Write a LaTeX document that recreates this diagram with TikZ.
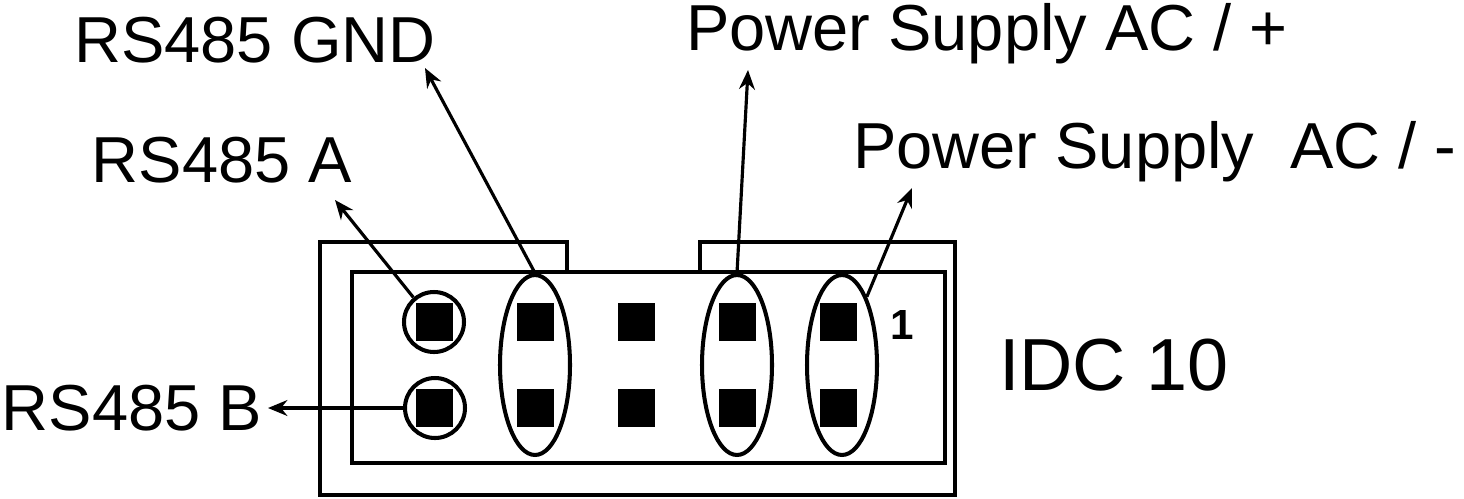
\documentclass[tikz,border=0pt]{standalone}
\usepackage{fontspec}
\setmainfont{Liberation Sans}
\usetikzlibrary{arrows.meta,shapes.geometric}
\begin{document}
\begin{tikzpicture}[x=0.02cm,y=-0.02cm,line width=2.3pt,
  lbl/.style={font=\fontsize{37}{40}\selectfont,inner sep=0pt},
  pin/.style={fill=black,draw=none,minimum width=0.74cm,minimum height=0.76cm,inner sep=0pt},
  ell/.style={draw,ellipse,minimum width=1.4cm,minimum height=3.6cm,inner sep=0pt},
  cir/.style={draw,circle,minimum size=1.2cm,inner sep=0pt},
  arr/.style={-{Stealth[length=11pt,width=9pt]},line width=1.8pt}]
\useasboundingbox (0,0) rectangle (1464,498);
% housing
\draw (567,272) -- (567,242) -- (320,242) -- (320,495) -- (955,495) -- (955,242) -- (700,242) -- (700,272);
\draw (352,272) rectangle (945,463);
% pins
\foreach \c/\x in {1/434,2/535,3/636,4/737,5/838}{
  \node[pin] (t\c) at (\x,322) {};
  \node[pin] (b\c) at (\x,408) {};
}
\node[cir] (ca) at (434,322) {};
\node[cir] (cb) at (435,408) {};
\node[ell] (e2) at (535,365) {};
\node[ell] (e4) at (737,365) {};
\node[ell] (e5) at (842,365) {};
\node[font=\fontsize{24}{26}\selectfont\bfseries] (one) at (902,325) {1};
\node[font=\fontsize{42}{46}\selectfont,inner sep=0pt] (idc) at (1114,365) {IDC 10};
% labels
\node[lbl] (gnd) at (255,40) {RS485 GND};
\node[lbl] (ra) at (222,160) {RS485 A};
\node[lbl] (rb) at (132,408) {RS485 B};
\node[lbl] (pp) at (987,34) {Power Supply AC / +};
\node[lbl] (pm) at (1155,152) {Power Supply \ AC / -};
\coordinate (gA) at (425,68);
\coordinate (aA) at (335,200);
\coordinate (bA) at (268,408);
\coordinate (pA) at (748,70);
\coordinate (mA) at (912,188);
\draw[arr] (e2.north) -- (gA);
\draw[arr] (ca.130) -- (aA);
\draw[arr] (cb.west) -- (bA);
\draw[arr] (e4.north) -- (pA);
\draw[arr] (e5.70) -- (mA);
\end{tikzpicture}
\end{document}
